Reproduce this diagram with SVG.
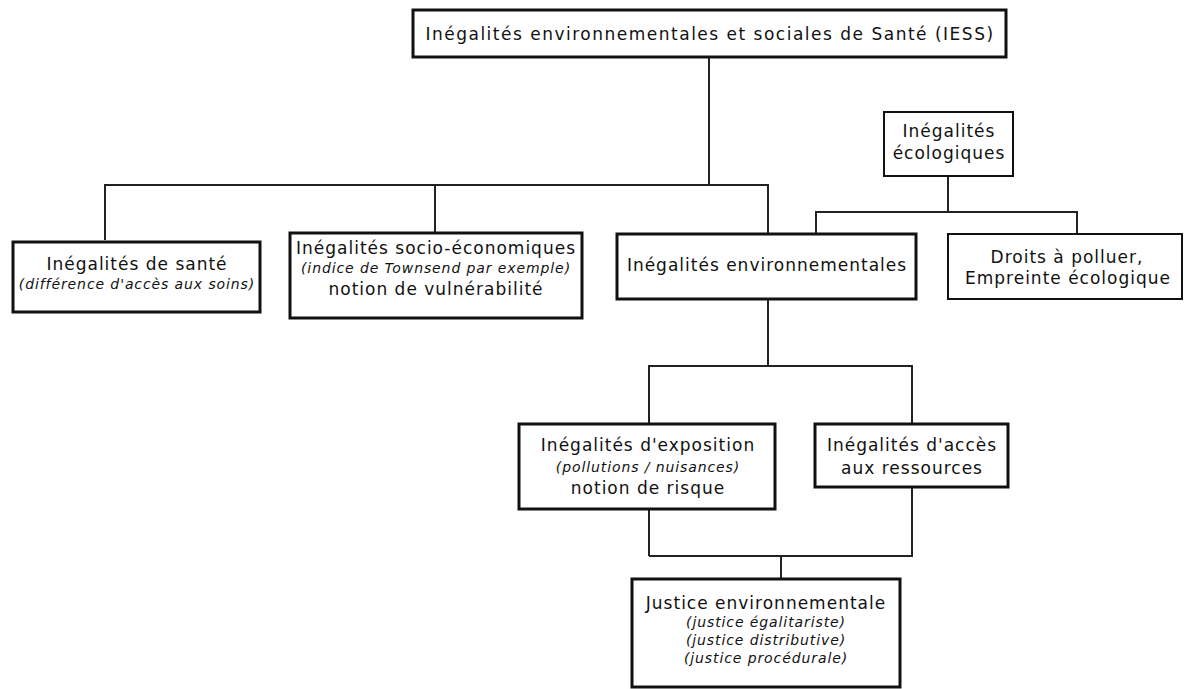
<svg xmlns="http://www.w3.org/2000/svg" width="1186" height="689" viewBox="0 0 1186 689">
<style>
.box{fill:#fff;stroke:#111;stroke-width:3}
.thin{fill:#fff;stroke:#111;stroke-width:2}
.con{fill:none;stroke:#222;stroke-width:2}
text{font-family:"DejaVu Sans",sans-serif;fill:#111;text-anchor:middle}
.m{font-size:17px;letter-spacing:1px}
.t{font-size:17px;letter-spacing:1.5px}
.i{font-size:14px;font-style:italic;letter-spacing:0.9px}
</style>
<rect width="1186" height="689" fill="#fff"/>
<g id="connectors">
<path class="con" d="M709,57 V185 M105,240 V185 H768 V234 M435,185 V233"/>
<path class="con" d="M948,176 V212 M816,234 V212 H1077 V234"/>
<path class="con" d="M768,299 V366 M649,424 V366 H912 V424"/>
<path class="con" d="M649,509 V556 M912,487 V556 H649 M781,556 V579"/>
</g>
<g id="iess">
<rect class="box" x="413" y="10" width="593" height="47"/>
<text class="t" x="710" y="40">Inégalités environnementales et sociales de Santé (IESS)</text>
</g>
<g id="sante">
<rect class="box" x="13" y="242" width="247" height="70"/>
<text class="m" x="137" y="270">Inégalités de santé</text>
<text class="i" x="137" y="289">(différence d'accès aux soins)</text>
</g>
<g id="socio">
<rect class="box" x="290" y="233" width="292" height="85"/>
<text class="m" x="436" y="254">Inégalités socio-économiques</text>
<text class="i" x="436" y="273">(indice de Townsend par exemple)</text>
<text class="m" x="436" y="295">notion de vulnérabilité</text>
</g>
<g id="env">
<rect class="box" x="617" y="234" width="299" height="65"/>
<text class="m" x="767" y="271">Inégalités environnementales</text>
</g>
<g id="eco">
<rect class="thin" x="884" y="112" width="129" height="64"/>
<text class="m" x="949" y="137">Inégalités</text>
<text class="m" x="949" y="159">écologiques</text>
</g>
<g id="droits">
<rect class="thin" x="948" y="234" width="234" height="65"/>
<text class="m" x="1067" y="263">Droits à polluer,</text>
<text class="m" x="1068" y="284">Empreinte écologique</text>
</g>
<g id="expo">
<rect class="box" x="519" y="424" width="256" height="85"/>
<text class="m" x="648" y="451">Inégalités d'exposition</text>
<text class="i" x="648" y="472">(pollutions / nuisances)</text>
<text class="m" x="648" y="494">notion de risque</text>
</g>
<g id="acces">
<rect class="box" x="815" y="424" width="193" height="63"/>
<text class="m" x="912" y="451">Inégalités d'accès</text>
<text class="m" x="912" y="474">aux ressources</text>
</g>
<g id="justice">
<rect class="box" x="632" y="579" width="268" height="108"/>
<text class="m" x="766" y="609">Justice environnementale</text>
<text class="i" x="766" y="627">(justice égalitariste)</text>
<text class="i" x="766" y="645">(justice distributive)</text>
<text class="i" x="766" y="663">(justice procédurale)</text>
</g>
</svg>
